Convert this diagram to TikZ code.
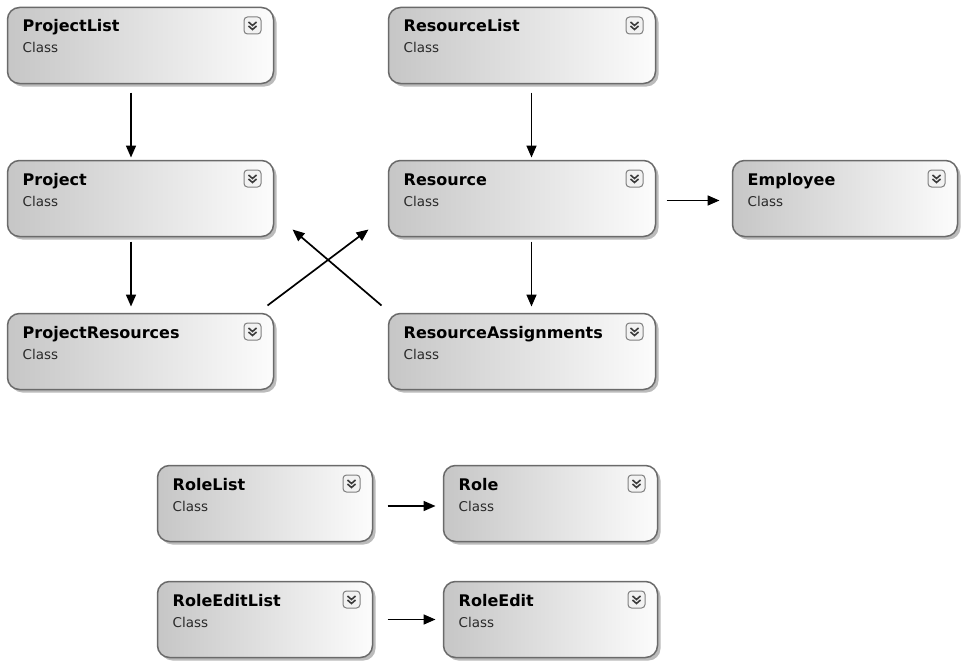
\documentclass[tikz,border=0pt]{standalone}
\usepackage{fontspec}
\setmainfont{DejaVu Sans}
\usetikzlibrary{arrows.meta,shadows}
\definecolor{bordergray}{HTML}{6A6A6A}
\definecolor{fillleft}{HTML}{C6C6C6}
\definecolor{fillright}{HTML}{FCFCFC}
\definecolor{shadowgray}{HTML}{BBBBBB}
\definecolor{icongray}{HTML}{808080}
\definecolor{iconfill}{HTML}{F2F2F2}
\definecolor{chevgray}{HTML}{3A3A3A}
\definecolor{subgray}{HTML}{2A2A2A}
\tikzset{
  cbox/.style={draw=bordergray, line width=1.5pt, rounded corners=12pt, anchor=north west,
    inner sep=0pt, outer sep=0pt, left color=fillleft, right color=fillright,
    drop shadow={shadow xshift=3pt, shadow yshift=-3pt, fill=shadowgray, opacity=1}},
  ctitle/.style={anchor=base west, inner sep=0pt, font=\bfseries\fontsize{16}{18}\selectfont},
  csub/.style={anchor=base west, inner sep=0pt, text=subgray, font=\fontsize{13.5}{15}\selectfont},
  cicon/.style={draw=icongray, line width=1pt, rounded corners=3.5pt, fill=iconfill,
    minimum size=17pt, inner sep=0pt, anchor=north east},
  chev/.style={draw=chevgray, line width=1.6pt},
  arr/.style={-{Triangle[length=12pt,width=10pt]}, line width=1.7pt, black},
}
\newcommand\classnode[6]{%
  \node[cbox, minimum width=#4pt, minimum height=#5pt] (#1) at (#2,#3) {};
  \node[ctitle] (#1-t) at ([xshift=15pt,yshift=-24.5pt]#1.north west) {#6};
  \node[csub] (#1-c) at ([xshift=15pt,yshift=-45.5pt]#1.north west) {Class};
  \node[cicon] (#1-i) at ([xshift=-12pt,yshift=-9pt]#1.north east) {};
  \draw[chev] ([shift={(-4pt,3.5pt)}]#1-i.center) -- ([shift={(0pt,0pt)}]#1-i.center) -- ([shift={(4pt,3.5pt)}]#1-i.center);
  \draw[chev] ([shift={(-4pt,-0.5pt)}]#1-i.center) -- ([shift={(0pt,-4pt)}]#1-i.center) -- ([shift={(4pt,-0.5pt)}]#1-i.center);
}
\begin{document}
\begin{tikzpicture}[x=1pt,y=-1pt]
\fill[white] (0,0) rectangle (961,661);
\useasboundingbox (0,0) rectangle (961,661);
\classnode{pl}{7.5}{7.5}{266}{76}{ProjectList}
\classnode{rl}{388.5}{7.5}{267}{76}{ResourceList}
\classnode{p}{7.5}{160.5}{266}{76}{Project}
\classnode{r}{388.5}{160.5}{267}{76}{Resource}
\classnode{emp}{732.5}{160.5}{225}{76}{Employee}
\classnode{prs}{7.5}{313.5}{266}{76}{ProjectResources}
\classnode{ra}{388.5}{313.5}{267}{76}{ResourceAssignments}
\classnode{rol}{157.5}{465.5}{215}{76}{RoleList}
\classnode{role}{443.5}{465.5}{214}{76}{Role}
\classnode{rel}{157.5}{581.5}{215}{76}{RoleEditList}
\classnode{roe}{443.5}{581.5}{214}{76}{RoleEdit}
% connectors
\draw[arr] ([xshift=-9.5pt,yshift=-9pt]pl.south) -- ([xshift=-9.5pt,yshift=3pt]p.north);
\draw[arr] ([xshift=9.5pt,yshift=-9pt]rl.south) -- ([xshift=9.5pt,yshift=3pt]r.north);
\draw[arr] ([xshift=-9.5pt,yshift=-5pt]p.south) -- ([xshift=-9.5pt,yshift=7pt]prs.north);
\draw[arr] ([xshift=9.5pt,yshift=-5pt]r.south) -- ([xshift=9.5pt,yshift=7pt]ra.north);
\draw[arr] ([xshift=11pt,yshift=-2pt]r.east) -- ([xshift=-13pt,yshift=-2pt]emp.west);
\draw[arr] ([xshift=-6pt,yshift=8pt]prs.north east) -- ([xshift=-20pt,yshift=7pt]r.south west);
\draw[arr] ([xshift=-7pt,yshift=8pt]ra.north west) -- ([xshift=19pt,yshift=7pt]p.south east);
\draw[arr] ([xshift=15pt,yshift=-2.5pt]rol.east) -- ([xshift=-8pt,yshift=-2.5pt]role.west);
\draw[arr] ([xshift=15pt,yshift=0pt]rel.east) -- ([xshift=-8pt,yshift=0pt]roe.west);
\end{tikzpicture}
\end{document}
